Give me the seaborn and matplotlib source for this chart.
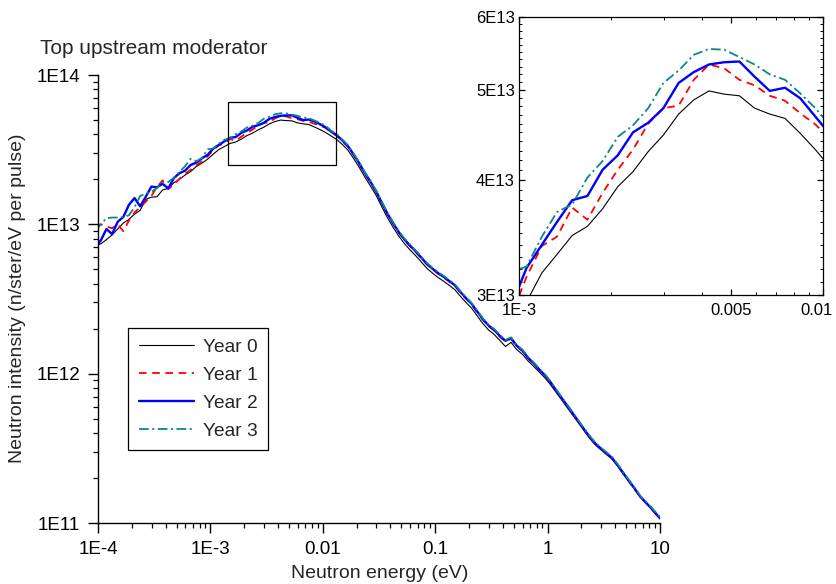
import matplotlib
matplotlib.use("Agg")
import matplotlib.pyplot as plt
from matplotlib.patches import Rectangle
from matplotlib.ticker import FixedLocator, FixedFormatter, NullFormatter
from matplotlib.transforms import ScaledTranslation
import pandas as pd
import seaborn as sns

# energy bins (eV), 20 per decade
energy_ev = [
    9.441e-5,
    1.059e-4, 1.189e-4, 1.334e-4, 1.496e-4, 1.679e-4, 1.884e-4, 2.113e-4, 2.371e-4, 2.661e-4, 2.985e-4,
    3.350e-4, 3.758e-4, 4.217e-4, 4.732e-4, 5.309e-4, 5.957e-4, 6.683e-4, 7.499e-4, 8.414e-4, 9.441e-4,
    1.059e-3, 1.189e-3, 1.334e-3, 1.496e-3, 1.679e-3, 1.884e-3, 2.113e-3, 2.371e-3, 2.661e-3, 2.985e-3,
    3.350e-3, 3.758e-3, 4.217e-3, 4.732e-3, 5.309e-3, 5.957e-3, 6.683e-3, 7.499e-3, 8.414e-3, 9.441e-3,
    1.059e-2, 1.189e-2, 1.334e-2, 1.496e-2, 1.679e-2, 1.884e-2, 2.113e-2, 2.371e-2, 2.661e-2, 2.985e-2,
    3.350e-2, 3.758e-2, 4.217e-2, 4.732e-2, 5.309e-2, 5.957e-2, 6.683e-2, 7.499e-2, 8.414e-2, 9.441e-2,
    1.059e-1, 1.189e-1, 1.334e-1, 1.496e-1, 1.679e-1, 1.884e-1, 2.113e-1, 2.371e-1, 2.661e-1, 2.985e-1,
    3.350e-1, 3.758e-1, 4.217e-1, 4.732e-1, 5.309e-1, 5.957e-1, 6.683e-1, 7.499e-1, 8.414e-1, 9.441e-1,
    1.059, 1.189, 1.334, 1.496, 1.679, 1.884, 2.113, 2.371, 2.661, 2.985,
    3.350, 3.758, 4.217, 4.732, 5.309, 5.957, 6.683, 7.499, 8.414, 9.441,
    10.59,
]

# intensities in units of 1E12 n/ster/eV per pulse
year0 = [
    7.2, 7.4, 7.9, 8.5, 9.3, 10.2, 10.8, 11.7, 12.4, 14.7, 15.2, 15.3, 17.0, 17.4, 19.0, 20.0, 21.4, 22.6, 24.4, 25.7, 27.3,
    29.5, 31.7, 33.2, 34.8, 35.6, 37.2, 39.3, 40.8, 42.9, 44.7, 47.1, 48.8, 49.9, 49.5, 49.3, 47.8, 47.1, 46.6, 44.9, 43.1, 41.2,
    39.0, 36.9, 34.2, 31.3, 27.5, 24.0, 20.7, 18.0, 15.6, 13.1, 11.07, 9.57, 8.36, 7.45, 6.75, 6.18, 5.61, 5.08, 4.72, 4.41,
    4.16, 3.90, 3.65, 3.29, 2.99, 2.74, 2.43, 2.16, 1.96, 1.83, 1.67, 1.52, 1.62, 1.45, 1.35, 1.22, 1.12, 1.026, 0.94, 0.845,
    0.75, 0.667, 0.592, 0.525, 0.467, 0.414, 0.368, 0.333, 0.309, 0.287, 0.267, 0.239, 0.212, 0.189, 0.168, 0.149, 0.136,
    0.124, 0.112, 0.102,
]
year1 = [
    9.8, 10.0, 9.7, 9.4, 10.0, 9.0, 10.6, 12.0, 13.0, 14.2, 15.5, 17.8, 19.7, 17.2, 18.5, 20.2, 21.8, 23.2, 24.8, 26.4, 28.5,
    31.4, 33.9, 34.7, 37.3, 36.2, 38.7, 41.0, 43.1, 46.0, 47.8, 48.1, 51.3, 53.3, 52.8, 51.3, 50.6, 49.3, 48.7, 47.2, 45.9, 44.2,
    41.3, 39.1, 36.0, 33.0, 29.0, 25.3, 21.8, 19.0, 16.4, 13.8, 11.67, 10.09, 8.81, 7.85, 7.15, 6.54, 5.94, 5.39, 5.00, 4.67,
    4.41, 4.13, 3.87, 3.48, 3.17, 2.90, 2.57, 2.29, 2.08, 1.94, 1.77, 1.64, 1.71, 1.52, 1.42, 1.27, 1.164, 1.056, 0.968, 0.870,
    0.768, 0.680, 0.604, 0.536, 0.474, 0.420, 0.373, 0.337, 0.312, 0.290, 0.269, 0.241, 0.213, 0.189, 0.168, 0.149, 0.136,
    0.124, 0.112, 0.102,
]
year2 = [
    7.0, 7.8, 9.3, 8.6, 10.4, 11.2, 13.5, 15.0, 13.2, 15.3, 17.9, 17.7, 18.7, 17.4, 20.4, 22.0, 22.9, 25.0, 25.9, 27.7, 29.2,
    32.1, 34.0, 36.0, 38.0, 38.4, 41.0, 42.5, 45.0, 46.1, 47.8, 50.9, 52.3, 53.3, 53.6, 53.7, 51.7, 49.9, 50.3, 49.0, 46.8, 44.7,
    41.7, 39.5, 36.4, 33.3, 29.3, 25.6, 22.0, 19.2, 16.6, 13.95, 11.79, 10.19, 8.90, 7.93, 7.22, 6.61, 6.00, 5.44, 5.05, 4.72,
    4.45, 4.17, 3.91, 3.52, 3.20, 2.93, 2.60, 2.31, 2.10, 1.96, 1.79, 1.66, 1.73, 1.54, 1.43, 1.28, 1.176, 1.067, 0.978, 0.879,
    0.776, 0.687, 0.610, 0.541, 0.479, 0.424, 0.377, 0.340, 0.315, 0.293, 0.272, 0.243, 0.215, 0.191, 0.170, 0.150, 0.137,
    0.125, 0.113, 0.103,
]
year3 = [
    9.0, 10.0, 11.0, 11.1, 11.1, 11.2, 11.5, 13.0, 15.5, 16.0, 16.5, 17.5, 19.0, 19.2, 20.5, 22.5, 24.5, 27.5, 26.5, 27.8, 31.8,
    32.2, 34.7, 36.9, 37.6, 40.2, 41.9, 44.5, 45.8, 47.8, 50.9, 52.5, 54.6, 55.4, 55.3, 54.3, 53.3, 52.0, 51.3, 49.6, 47.8, 45.7,
    42.3, 40.1, 36.9, 33.8, 29.7, 26.0, 22.3, 19.5, 16.8, 14.16, 11.97, 10.34, 9.03, 8.05, 7.33, 6.71, 6.09, 5.52, 5.13, 4.79,
    4.52, 4.23, 3.97, 3.57, 3.25, 2.97, 2.64, 2.34, 2.13, 1.99, 1.82, 1.68, 1.75, 1.56, 1.45, 1.30, 1.19, 1.083, 0.993, 0.892,
    0.788, 0.697, 0.619, 0.549, 0.486, 0.430, 0.383, 0.345, 0.320, 0.297, 0.276, 0.247, 0.218, 0.194, 0.172, 0.152, 0.139,
    0.127, 0.115, 0.104,
]

year_labels = ["Year 0", "Year 1", "Year 2", "Year 3"]
year_colors = ["black", "#ff0000", "#0000ff", "#0b8787"]
year_widths = [0.8, 1.3, 1.7, 1.3]
year_styles = ["-", (0, (5.5, 4.0)), "-", (0, (7.0, 2.5, 1.5, 2.5))]

# zoom box drawn on main plot (eV, intensity)
box_x = [1.43e-3, 1.31e-2]
box_y = [2.5e13, 6.6e13]

# long table for seaborn
frames = []
for lab, vals in zip(year_labels, [year0, year1, year2, year3]):
    frames.append(pd.DataFrame({"energy": energy_ev,
                                "intensity": [v * 1e12 for v in vals],
                                "year": lab}))
df = pd.concat(frames, ignore_index=True)

sns.set_style("ticks")
plt.rcParams["font.family"] = ["Liberation Sans", "DejaVu Sans"]
plt.rcParams["lines.scale_dashes"] = False

W, H = 836, 584
fig = plt.figure(figsize=(W / 100, H / 100), dpi=100)

# ---- main plot
ax = fig.add_axes([98 / W, 1 - 523 / H, 562 / W, 448 / H])
ax.set_xscale("log")
ax.set_yscale("log")
for lab, col, lw, ls in zip(year_labels, year_colors, year_widths, year_styles):
    sns.lineplot(data=df[df["year"] == lab], x="energy", y="intensity", ax=ax,
                 color=col, linewidth=lw, linestyle=ls, label=lab,
                 estimator=None, sort=False)
ax.set_xlim(1e-4, 10)
ax.set_ylim(1e11, 1e14)
ax.xaxis.set_major_locator(FixedLocator([1e-4, 1e-3, 1e-2, 1e-1, 1, 10]))
ax.xaxis.set_major_formatter(FixedFormatter(["1E-4", "1E-3", "0.01", "0.1", "1", "10"]))
ax.yaxis.set_major_locator(FixedLocator([1e11, 1e12, 1e13, 1e14]))
ax.yaxis.set_major_formatter(FixedFormatter(["1E11", "1E12", "1E13", "1E14"]))
ax.xaxis.set_minor_formatter(NullFormatter())
ax.yaxis.set_minor_formatter(NullFormatter())
ax.set_xlabel("")
ax.set_ylabel("")
sns.despine(ax=ax)
for s in ["left", "bottom"]:
    ax.spines[s].set_linewidth(1.0)
    ax.spines[s].set_color("black")
ax.tick_params(which="major", direction="out", length=7, width=1.0, pad=6,
               labelsize=13.5, colors="black")
ax.tick_params(which="minor", direction="out", length=3.6, width=0.9, colors="black")

ax.add_patch(Rectangle((box_x[0], box_y[0]), box_x[1] - box_x[0], box_y[1] - box_y[0],
                       fill=False, edgecolor="black", linewidth=0.9, zorder=5))

handles, labels = ax.get_legend_handles_labels()
leg = ax.legend(handles, labels, loc="upper left", bbox_to_anchor=(128 / W, 1 - 328 / H),
                bbox_transform=fig.transFigure, fontsize=13.8, frameon=True, fancybox=False,
                framealpha=1, edgecolor="black", handlelength=2.9, handletextpad=0.45,
                labelspacing=0.55, borderpad=0.55, borderaxespad=0)
leg.get_frame().set_linewidth(0.9)

fig.text(40 / W, 1 - 48 / H, "Top upstream moderator", fontsize=15, ha="left", va="center")
fig.text(380 / W, 1 - 573 / H, "Neutron energy (eV)", fontsize=14, ha="center", va="center")
fig.text(18 / W, 1 - 298 / H, "Neutron intensity (n/ster/eV per pulse)", fontsize=14,
         rotation=90, ha="center", va="center")

# ---- inset
ax_in = fig.add_axes([519 / W, 1 - 295 / H, 304 / W, 278 / H])
ax_in.set_xscale("log")
ax_in.set_yscale("log")
for lab, col, lw, ls in zip(year_labels, year_colors, year_widths, year_styles):
    sns.lineplot(data=df[df["year"] == lab], x="energy", y="intensity", ax=ax_in,
                 color=col, linewidth=lw, linestyle=ls, legend=False,
                 estimator=None, sort=False)
ax_in.set_xlim(1e-3, 1e-2)
ax_in.set_ylim(3e13, 6e13)
ax_in.xaxis.set_major_locator(FixedLocator([1e-3, 5e-3, 1e-2]))
ax_in.xaxis.set_major_formatter(FixedFormatter(["1E-3", "0.005", "0.01"]))
ax_in.xaxis.set_minor_locator(FixedLocator([2e-3, 3e-3, 4e-3, 6e-3, 7e-3, 8e-3, 9e-3]))
ax_in.xaxis.set_minor_formatter(NullFormatter())
ax_in.yaxis.set_major_locator(FixedLocator([3e13, 4e13, 5e13, 6e13]))
ax_in.yaxis.set_major_formatter(FixedFormatter(["3E13", "4E13", "5E13", "6E13"]))
ax_in.yaxis.set_minor_locator(FixedLocator([v * 1e12 for v in range(31, 60) if v % 10 != 0]))
ax_in.yaxis.set_minor_formatter(NullFormatter())
ax_in.set_xlabel("")
ax_in.set_ylabel("")
for s in ax_in.spines.values():
    s.set_linewidth(0.9)
    s.set_color("black")
ax_in.tick_params(which="both", direction="in", top=True, right=True, colors="black")
ax_in.tick_params(which="major", length=4, width=0.9, labelsize=12)
ax_in.tick_params(axis="x", which="major", pad=6)
ax_in.tick_params(axis="y", which="major", pad=3)
ax_in.tick_params(which="minor", length=2.5, width=0.7)

# keep the "0.01" label inside the figure edge
fig.canvas.draw()
last_lbl = ax_in.xaxis.get_major_ticks()[-1].label1
last_lbl.set_transform(last_lbl.get_transform() + ScaledTranslation(-5 / 72, 0, fig.dpi_scale_trans))

fig.savefig("out.png", dpi=100)
